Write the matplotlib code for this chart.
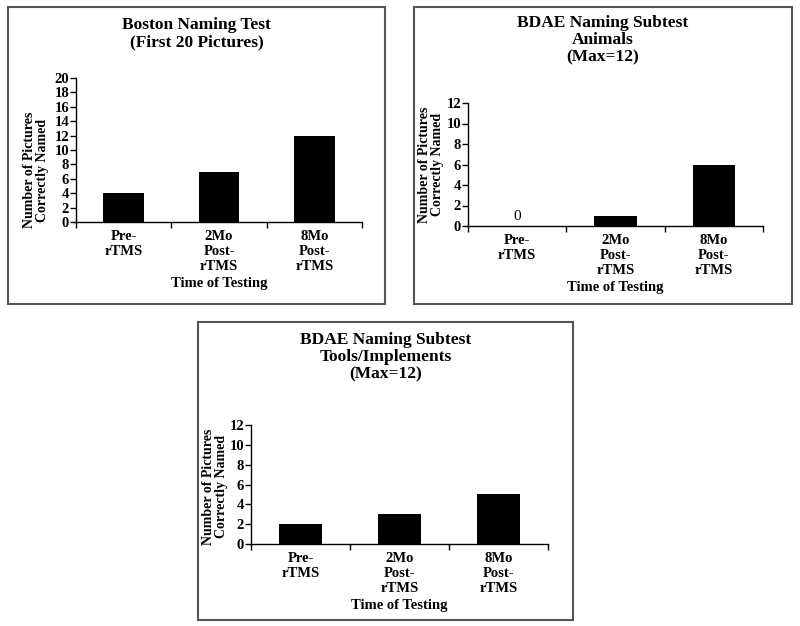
import matplotlib.pyplot as plt
from matplotlib.patches import Rectangle

# data
categories = ["Pre-\nrTMS", "2Mo\nPost-\nrTMS", "8Mo\nPost-\nrTMS"]
boston = [4, 7, 12]
animals = [0, 1, 6]
tools = [2, 3, 5]

titles = ["Boston Naming Test\n(First 20 Pictures)",
          "BDAE Naming Subtest\nAnimals\n(Max=12)",
          "BDAE Naming Subtest\nTools/Implements\n(Max=12)"]

plt.rcParams['font.family'] = ['Liberation Serif', 'DejaVu Serif']
plt.rcParams['font.weight'] = 'bold'

W, H = 800, 626
fig = plt.figure(figsize=(8, 6.26), dpi=100)

def px_rect(x0, y0, x1, y1):
    # pixel box -> figure fraction [left, bottom, width, height]
    return [x0 / W, 1 - y1 / H, (x1 - x0) / W, (y1 - y0) / H]

# panel frames
frames = [(8, 7, 385, 304), (414, 7, 792, 304), (198, 322, 573, 620)]
for f in frames:
    l, b, w, h = px_rect(*f)
    fig.add_artist(Rectangle((l, b), w, h, transform=fig.transFigure,
                             fill=False, edgecolor='#555555', linewidth=1.5))

axes_boxes = [(76, 78, 362, 222), (468, 103, 763, 226), (251, 425, 548, 544)]
datasets = [boston, animals, tools]
ymaxes = [20, 12, 12]
title_y = [17, 15, 332]
ylabel_pos = [0.36, 0.5, 0.48]
ylabel_pad = [4, 2, 1]

for i in range(3):
    ax = fig.add_axes(px_rect(*axes_boxes[i]))
    x = range(len(categories))
    ax.bar(x, datasets[i], width=0.43, color='black')
    ax.set_xlim(-0.5, 2.5)
    ax.set_ylim(0, ymaxes[i])
    ax.set_yticks(range(0, ymaxes[i] + 1, 2))
    ax.set_xticks([-0.5, 0.5, 1.5, 2.5])
    ax.set_xticklabels([])
    ax.set_xticks(list(x), minor=True)
    ax.set_xticklabels(categories, minor=True, fontsize=10.5, fontweight='bold',
                       linespacing=1.2)
    ax.tick_params(axis='x', which='minor', length=0, pad=6)
    ax.tick_params(axis='x', which='major', direction='out', length=4, width=1)
    ax.tick_params(axis='y', direction='out', length=4, width=1, labelsize=10.5, pad=1)
    for lab in ax.get_yticklabels():
        lab.set_fontweight('bold')
    for s in ['top', 'right']:
        ax.spines[s].set_visible(False)
    ax.spines['left'].set_linewidth(1)
    ax.spines['bottom'].set_linewidth(1)
    ax.annotate("Time of Testing", xy=(0.5, 0), xycoords='axes fraction',
                xytext=(0, -47), textcoords='offset points',
                ha='center', va='baseline', fontsize=10.5, fontweight='bold')
    ax.set_ylabel("Number of Pictures\nCorrectly Named", fontsize=10,
                  fontweight='bold', labelpad=ylabel_pad[i], linespacing=1.0)
    ax.yaxis.label.set_y(ylabel_pos[i])
    # title placed in pixel space
    fx0, fy0, fx1, fy1 = frames[i]
    fig.text((fx0 + fx1) / 2 / W, 1 - title_y[i] / H, titles[i], ha='center', va='top',
             fontsize=12.5, fontweight='bold', linespacing=1.1)
    if i == 1:
        ax.text(0, 0.3, "0", ha='center', va='bottom', fontsize=11, fontweight='normal')

fig.savefig("out.png", dpi=100)
